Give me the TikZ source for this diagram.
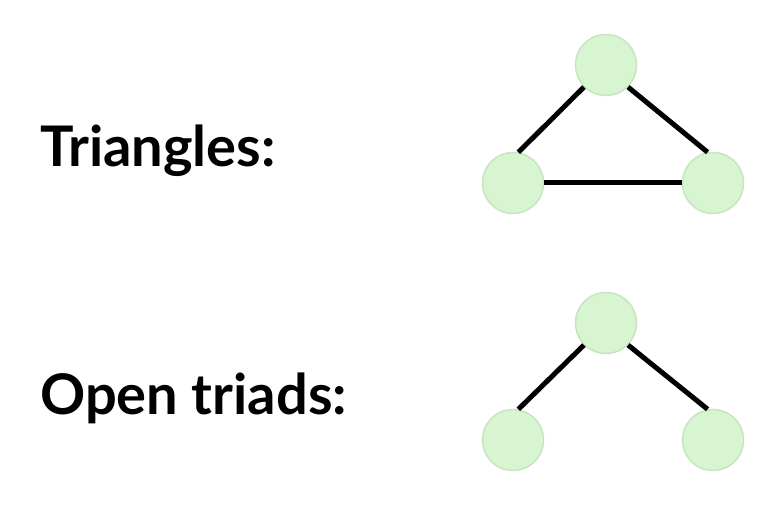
\documentclass[tikz,border=0pt]{standalone}
\usepackage{fontspec}
\setmainfont{Lato}
\usepackage{tikz}
\definecolor{nodegreen}{RGB}{214,245,208}
\definecolor{nodeedge}{RGB}{200,228,194}
\tikzset{vertex/.style={circle,fill=nodegreen,draw=nodeedge,line width=1.5pt,minimum size=61pt,inner sep=0pt},
  tie/.style={-,line width=5pt,black},
  caption/.style={anchor=base west,inner sep=0pt,font=\fontsize{56}{64}\selectfont\bfseries}}

\begin{document}
\begin{tikzpicture}[x=1pt,y=1pt]
  \useasboundingbox (0,0) rectangle (782,518);
  \draw (40,351) node[caption] (tri) {Triangles:};
  \draw (40,103) node[caption] (open) {Open triads:};

  \draw (606,453) node[vertex] (t-top) {};
  \draw (513,335) node[vertex] (t-left) {};
  \draw (713,335) node[vertex] (t-right) {};
  \path[tie] (t-top.south west) edge (t-left.80);
  \path[tie] (t-top.south east) edge (t-right.100);
  \path[tie] (t-left) edge (t-right);

  \draw (606,195) node[vertex] (o-top) {};
  \draw (513,78) node[vertex] (o-left) {};
  \draw (713,78) node[vertex] (o-right) {};
  \path[tie] (o-top.south west) edge (o-left.80);
  \path[tie] (o-top.south east) edge (o-right.100);
\end{tikzpicture}
\end{document}
